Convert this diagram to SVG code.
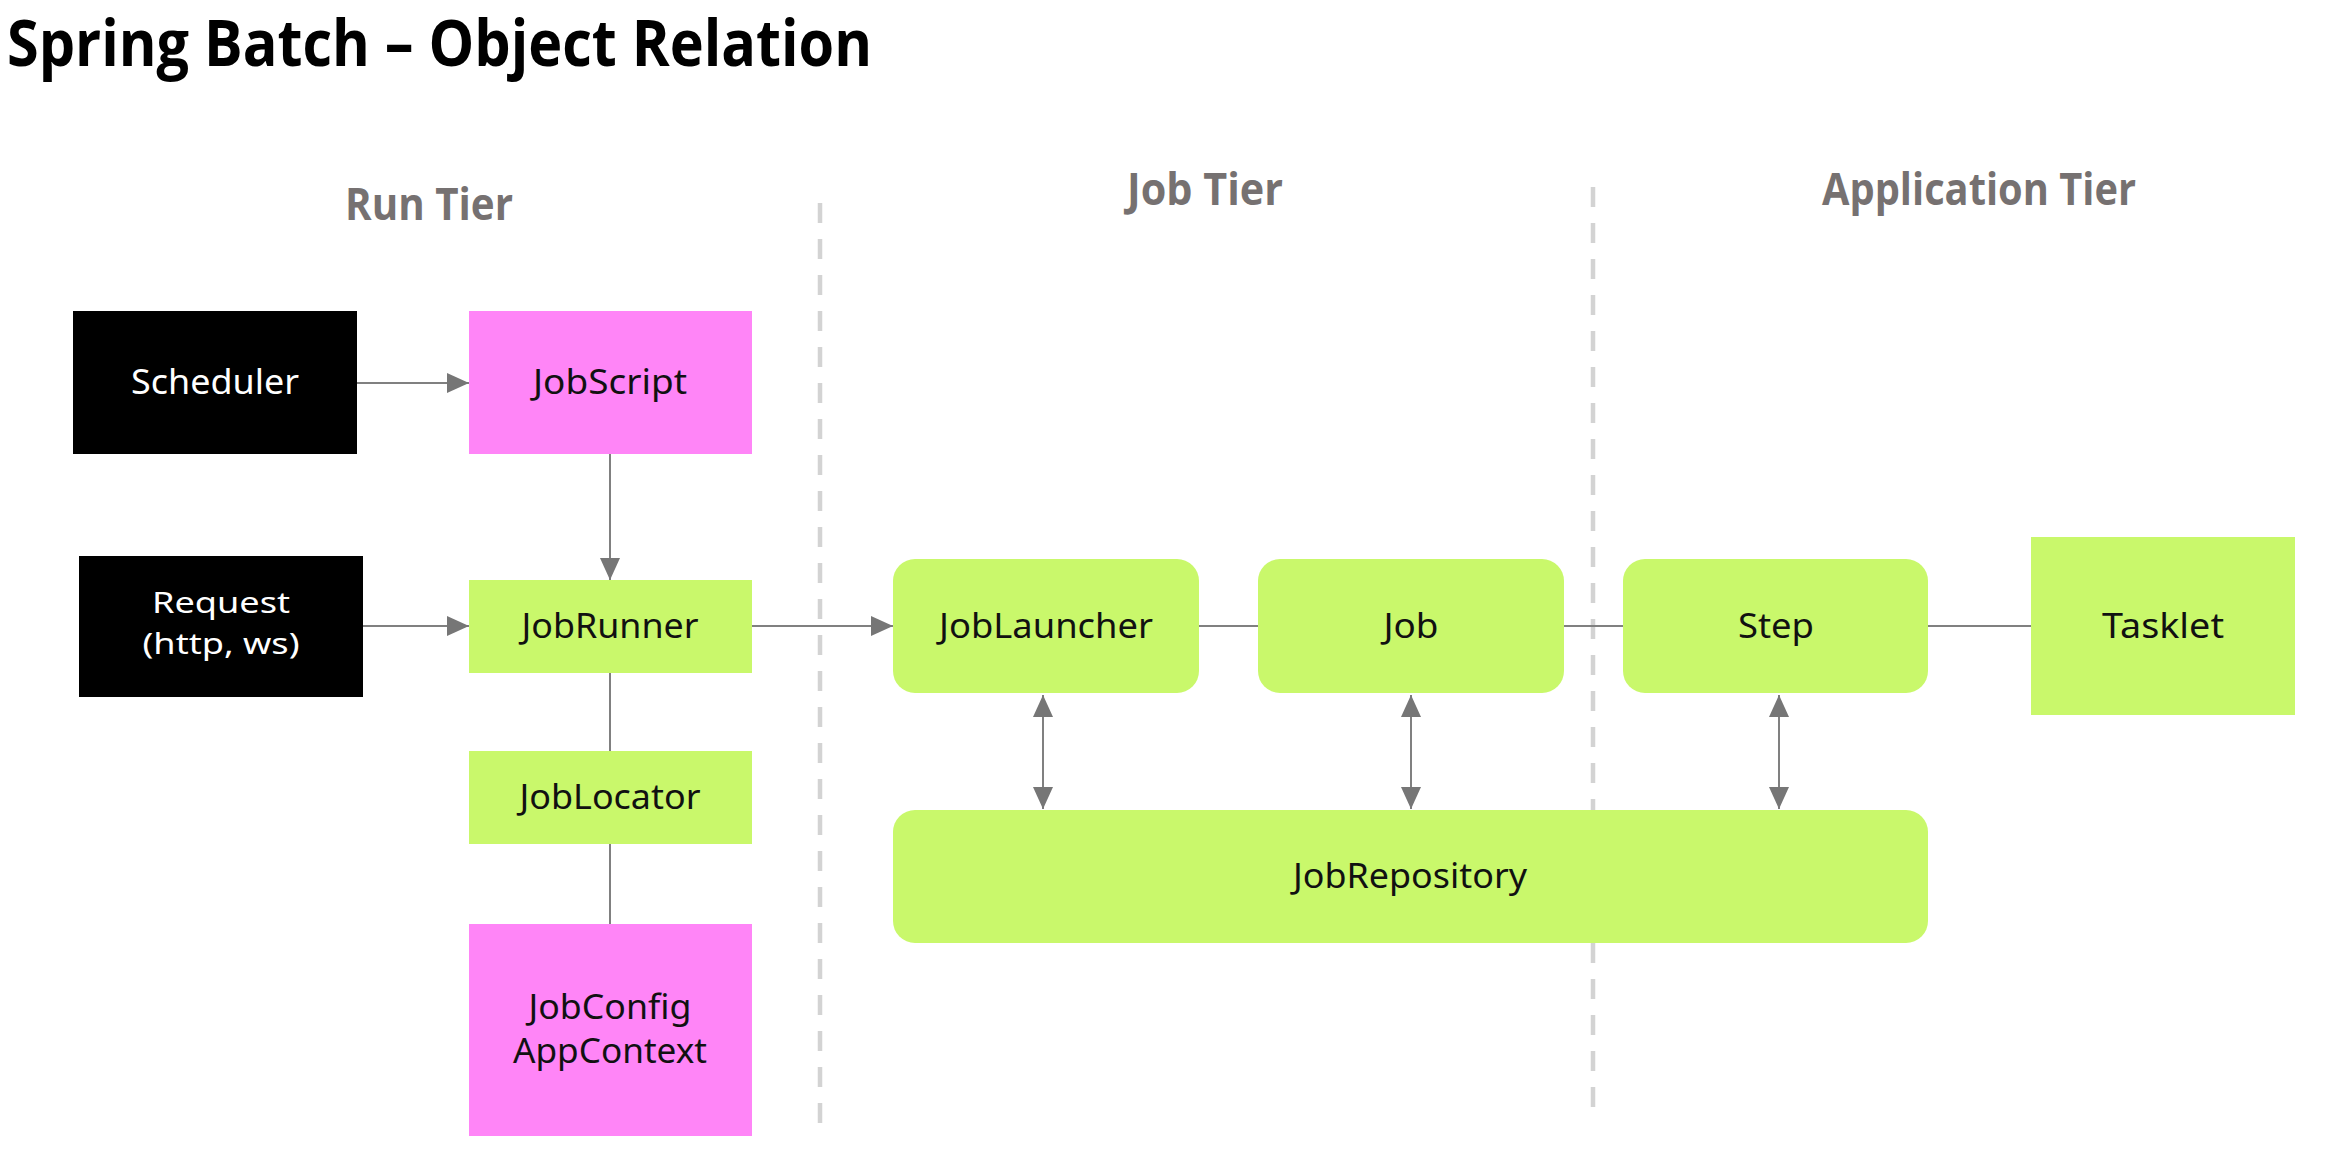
<svg xmlns="http://www.w3.org/2000/svg" width="2326" height="1166" viewBox="0 0 2326 1166">
<style>
.title{font-family:"Open Sans","Liberation Sans",sans-serif;font-weight:700;font-size:64px;fill:#000}
.tier{font-family:"Open Sans","Liberation Sans",sans-serif;font-weight:700;font-size:44px;fill:#767171}
.lbl{font-family:"Noto Sans","Liberation Sans",sans-serif;font-size:34px;text-anchor:middle;fill:#111}
.sm{font-size:29px}
.wht{fill:#fff}
.blk{fill:#000}
.pink{fill:#FF85F7}
.green{fill:#C9F86B}
.sep{stroke:#d3d3d3;stroke-width:4.5;stroke-dasharray:20 16;fill:none}
.con{stroke:#808080;stroke-width:2;fill:none}
</style>
<defs>
<marker id="ah" markerUnits="userSpaceOnUse" markerWidth="24" markerHeight="22" refX="22" refY="10" orient="auto-start-reverse">
<path d="M0,0 L22,10 L0,20 Z" fill="#767676"/>
</marker>
</defs>
<rect width="2326" height="1166" fill="#fff"/>
<text class="title" x="7" y="66" textLength="865" lengthAdjust="spacingAndGlyphs">Spring Batch – Object Relation</text>
<g id="tiers">
<text class="tier" x="345" y="220" textLength="168" lengthAdjust="spacingAndGlyphs">Run Tier</text>
<text class="tier" x="1127" y="205" textLength="156" lengthAdjust="spacingAndGlyphs">Job Tier</text>
<text class="tier" x="1822" y="205" textLength="314" lengthAdjust="spacingAndGlyphs">Application Tier</text>
</g>
<g id="separators">
<line class="sep" x1="820" y1="203" x2="820" y2="1132"/>
<line class="sep" x1="1593" y1="187" x2="1593" y2="1115"/>
</g>
<g id="connectors">
<line class="con" x1="357" y1="383" x2="469" y2="383" marker-end="url(#ah)"/>
<line class="con" x1="610" y1="454" x2="610" y2="580" marker-end="url(#ah)"/>
<line class="con" x1="363" y1="626" x2="469" y2="626" marker-end="url(#ah)"/>
<line class="con" x1="752" y1="626" x2="893" y2="626" marker-end="url(#ah)"/>
<line class="con" x1="610" y1="673" x2="610" y2="751"/>
<line class="con" x1="610" y1="844" x2="610" y2="924"/>
<line class="con" x1="1199" y1="626" x2="1258" y2="626"/>
<line class="con" x1="1564" y1="626" x2="1623" y2="626"/>
<line class="con" x1="1928" y1="626" x2="2031" y2="626"/>
<line class="con" x1="1043" y1="695" x2="1043" y2="809" marker-start="url(#ah)" marker-end="url(#ah)"/>
<line class="con" x1="1411" y1="695" x2="1411" y2="809" marker-start="url(#ah)" marker-end="url(#ah)"/>
<line class="con" x1="1779" y1="695" x2="1779" y2="809" marker-start="url(#ah)" marker-end="url(#ah)"/>
</g>
<g id="scheduler">
<rect class="blk" x="73" y="311" width="284" height="143"/>
<text class="lbl wht" x="215" y="394" textLength="168" lengthAdjust="spacingAndGlyphs">Scheduler</text>
</g>
<g id="jobscript">
<rect class="pink" x="469" y="311" width="283" height="143"/>
<text class="lbl" x="610" y="394" textLength="154" lengthAdjust="spacingAndGlyphs">JobScript</text>
</g>
<g id="request">
<rect class="blk" x="79" y="556" width="284" height="141"/>
<text class="lbl sm wht" x="221" y="613" textLength="138" lengthAdjust="spacingAndGlyphs">Request</text>
<text class="lbl sm wht" x="221" y="654" textLength="157" lengthAdjust="spacingAndGlyphs">(http, ws)</text>
</g>
<g id="jobrunner">
<rect class="green" x="469" y="580" width="283" height="93"/>
<text class="lbl" x="610" y="638" textLength="177" lengthAdjust="spacingAndGlyphs">JobRunner</text>
</g>
<g id="joblocator">
<rect class="green" x="469" y="751" width="283" height="93"/>
<text class="lbl" x="610" y="809" textLength="181" lengthAdjust="spacingAndGlyphs">JobLocator</text>
</g>
<g id="jobconfig">
<rect class="pink" x="469" y="924" width="283" height="212"/>
<text class="lbl" x="610" y="1019" textLength="163" lengthAdjust="spacingAndGlyphs">JobConfig</text>
<text class="lbl" x="610" y="1063" textLength="194" lengthAdjust="spacingAndGlyphs">AppContext</text>
</g>
<g id="joblauncher">
<rect class="green" x="893" y="559" width="306" height="134" rx="22"/>
<text class="lbl" x="1046" y="638" textLength="214" lengthAdjust="spacingAndGlyphs">JobLauncher</text>
</g>
<g id="job">
<rect class="green" x="1258" y="559" width="306" height="134" rx="22"/>
<text class="lbl" x="1411" y="638" textLength="55" lengthAdjust="spacingAndGlyphs">Job</text>
</g>
<g id="step">
<rect class="green" x="1623" y="559" width="305" height="134" rx="22"/>
<text class="lbl" x="1776" y="638" textLength="76" lengthAdjust="spacingAndGlyphs">Step</text>
</g>
<g id="tasklet">
<rect class="green" x="2031" y="537" width="264" height="178"/>
<text class="lbl" x="2163" y="638" textLength="122" lengthAdjust="spacingAndGlyphs">Tasklet</text>
</g>
<g id="jobrepository">
<rect class="green" x="893" y="810" width="1035" height="133" rx="22"/>
<text class="lbl" x="1410" y="888" textLength="234" lengthAdjust="spacingAndGlyphs">JobRepository</text>
</g>
</svg>
